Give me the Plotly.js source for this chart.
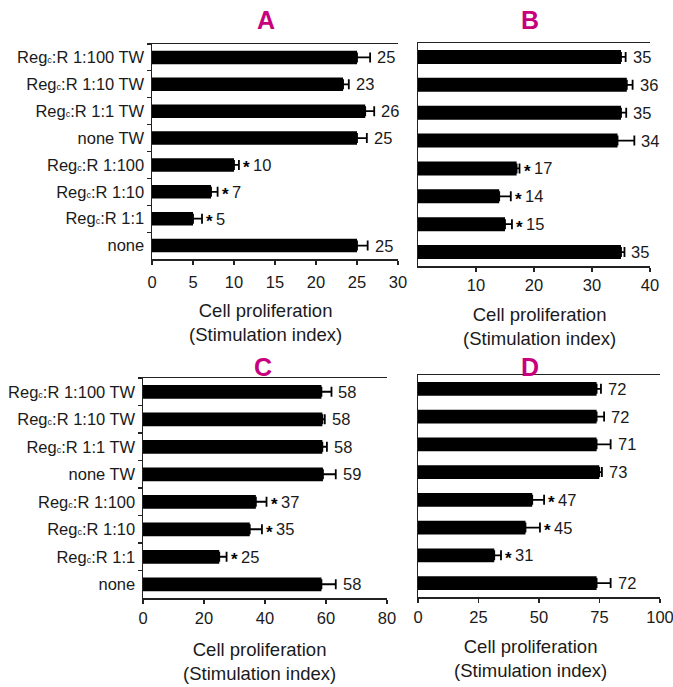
<!DOCTYPE html>
<html>
<head>
<meta charset="utf-8">
<script src="https://cdn.plot.ly/plotly-3.0.1.min.js"></script>
<style>html,body{margin:0;padding:0;background:#fff}#chart{width:673px;height:687px}</style>
</head>
<body>
<div id="chart"></div>
<script>
// ---- data ----
const SUBC = '<span style="font-size:9px">c</span>';
const categories = ["Reg" + SUBC + ":R 1:100 TW", "Reg" + SUBC + ":R 1:10 TW", "Reg" + SUBC + ":R 1:1 TW", "none TW",
                    "Reg" + SUBC + ":R 1:100", "Reg" + SUBC + ":R 1:10", "Reg" + SUBC + ":R 1:1", "none"];
const panelTitles = ["A", "B", "C", "D"];

const valuesA = [25, 23.3, 26, 25, 10, 7.2, 5, 25];
const errA    = [1.6, 0.7, 1.1, 1.2, 0.6, 0.8, 1.1, 1.3];
const labelsA = ["25", "23", "26", "25", "10", "7", "5", "25"];
const sigA    = [false, false, false, false, true, true, true, false];

const valuesB = [35, 36, 35, 34.4, 17, 14, 15, 35];
const errB    = [0.8, 1.0, 0.9, 2.9, 0.5, 2.0, 1.2, 0.6];
const labelsB = ["35", "36", "35", "34", "17", "14", "15", "35"];
const sigB    = [false, false, false, false, true, true, true, false];

const valuesC = [58.5, 58.8, 58.8, 59, 37, 35, 25, 58.5];
const errC    = [3.3, 0.8, 1.5, 4.2, 3.5, 4.0, 2.4, 4.7];
const labelsC = ["58", "58", "58", "59", "37", "35", "25", "58"];
const sigC    = [false, false, false, false, true, true, true, false];

const valuesD = [73.8, 73.8, 73.8, 74.9, 47.2, 44.4, 31.5, 73.8];
const errD    = [1.8, 3.1, 5.8, 1.1, 4.9, 6.0, 2.8, 5.8];
const labelsD = ["72", "72", "71", "73", "47", "45", "31", "72"];
const sigD    = [false, false, false, false, true, true, true, false];

const xTicksA = [0, 5, 10, 15, 20, 25, 30];
const xTicksB = [10, 20, 30, 40];
const xTicksC = [0, 20, 40, 60, 80];
const xTicksD = [0, 25, 50, 75, 100];
const axisTitle = "Cell proliferation<br>(Stimulation index)";

// ---- styling / layout ----
const FONT = "'Liberation Sans', Arial, Helvetica, sans-serif";
const TXT = "#1a1a1a";
const MAGENTA = "#c8007d";
const TICKSIZE = 16.5;

const panels = [
  {v: valuesA, e: errA, l: labelsA, s: sigA, ticks: xTicksA, range: [0, 30], xd: [152/673, 398/673], yd: [1-259/687, 1-44/687], showY: true, standoff: 4,
   title: {x: 266/673, y: 1-20/687}, at: {x: 265/673, y: 1-323/687}},
  {v: valuesB, e: errB, l: labelsB, s: sigB, ticks: xTicksB, range: [0, 40], xd: [418/673, 650/673], yd: [1-266/687, 1-43/687], showY: false, standoff: 0,
   title: {x: 530/673, y: 1-20/687}, at: {x: 539/673, y: 1-326/687}},
  {v: valuesC, e: errC, l: labelsC, s: sigC, ticks: xTicksC, range: [0, 80], xd: [143/673, 387/673], yd: [1-598/687, 1-378/687], showY: true, standoff: 1,
   title: {x: 263/673, y: 1-367/687}, at: {x: 259/673, y: 1-661/687}},
  {v: valuesD, e: errD, l: labelsD, s: sigD, ticks: xTicksD, range: [0, 100], xd: [418/673, 660/673], yd: [1-597/687, 1-375/687], showY: false, standoff: 1,
   title: {x: 530/673, y: 1-367/687}, at: {x: 530/673, y: 1-658/687}}
];

const traces = [];
const annotations = [];
const layout = {
  width: 673, height: 687,
  margin: {l: 0, r: 0, t: 0, b: 0},
  paper_bgcolor: "#fff", plot_bgcolor: "#fff",
  showlegend: false,
  bargap: 0.5,
  font: {family: FONT, size: TICKSIZE, color: TXT},
  annotations: annotations
};

panels.forEach((p, i) => {
  const n = i === 0 ? "" : String(i + 1);
  const xa = "x" + n, ya = "y" + n;
  traces.push({
    type: "bar", orientation: "h",
    x: p.v, y: categories,
    xaxis: xa, yaxis: ya,
    marker: {color: "#000", line: {width: 0}},
    error_x: {type: "data", symmetric: false, array: p.e, arrayminus: p.v.map(() => 0),
              color: "#000", thickness: 1.8, width: 5},
    hoverinfo: "skip"
  });
  layout["xaxis" + n] = {
    domain: p.xd, anchor: ya, range: p.range, fixedrange: true,
    tickvals: p.ticks, ticktext: p.ticks.map(String),
    showline: true, linecolor: "#222", linewidth: 1.5, mirror: true,
    ticks: "outside", ticklen: 4, tickwidth: 1.2, tickcolor: "#222",
    ticklabelstandoff: p.standoff, ticklabeloverflow: "allow",
    showgrid: false, zeroline: false,
    tickfont: {family: FONT, size: TICKSIZE, color: TXT}
  };
  layout["yaxis" + n] = {
    domain: p.yd, anchor: xa, type: "category",
    categoryorder: "array", categoryarray: categories,
    autorange: "reversed", fixedrange: true,
    showline: true, linecolor: "#222", linewidth: 1.5, mirror: false,
    showticklabels: p.showY,
    ticks: p.showY ? "outside" : "", tickson: "boundaries", ticklen: 4, tickwidth: 1.2, tickcolor: "#222",
    ticklabelstandoff: 3,
    showgrid: false, zeroline: false,
    tickfont: {family: FONT, size: TICKSIZE, color: TXT}
  };
  // panel letter
  annotations.push({xref: "paper", yref: "paper", x: p.title.x, y: p.title.y, xanchor: "center", yanchor: "middle",
    text: "<b>" + panelTitles[i] + "</b>", showarrow: false, font: {family: FONT, size: 25, color: MAGENTA}});
  // axis title
  annotations.push({xref: "paper", yref: "paper", x: p.at.x, y: p.at.y, xanchor: "center", yanchor: "middle",
    text: axisTitle, showarrow: false, font: {family: FONT, size: 18.5, color: TXT}});
  // value labels and asterisks
  p.v.forEach((val, k) => {
    const end = val + p.e[k];
    if (p.s[k]) {
      annotations.push({xref: xa, yref: ya, x: end, y: categories[k], xanchor: "left", yanchor: "middle",
        xshift: 2, yshift: -3, text: "<b>*</b>", showarrow: false, font: {family: FONT, size: 17, color: "#000"}});
    }
    annotations.push({xref: xa, yref: ya, x: end, y: categories[k], xanchor: "left", yanchor: "middle",
      xshift: p.s[k] ? 12 : 5, text: p.l[k], showarrow: false, font: {family: FONT, size: TICKSIZE, color: TXT}});
  });
});

Plotly.newPlot("chart", traces, layout, {staticPlot: true, displayModeBar: false});
</script>
</body>
</html>
